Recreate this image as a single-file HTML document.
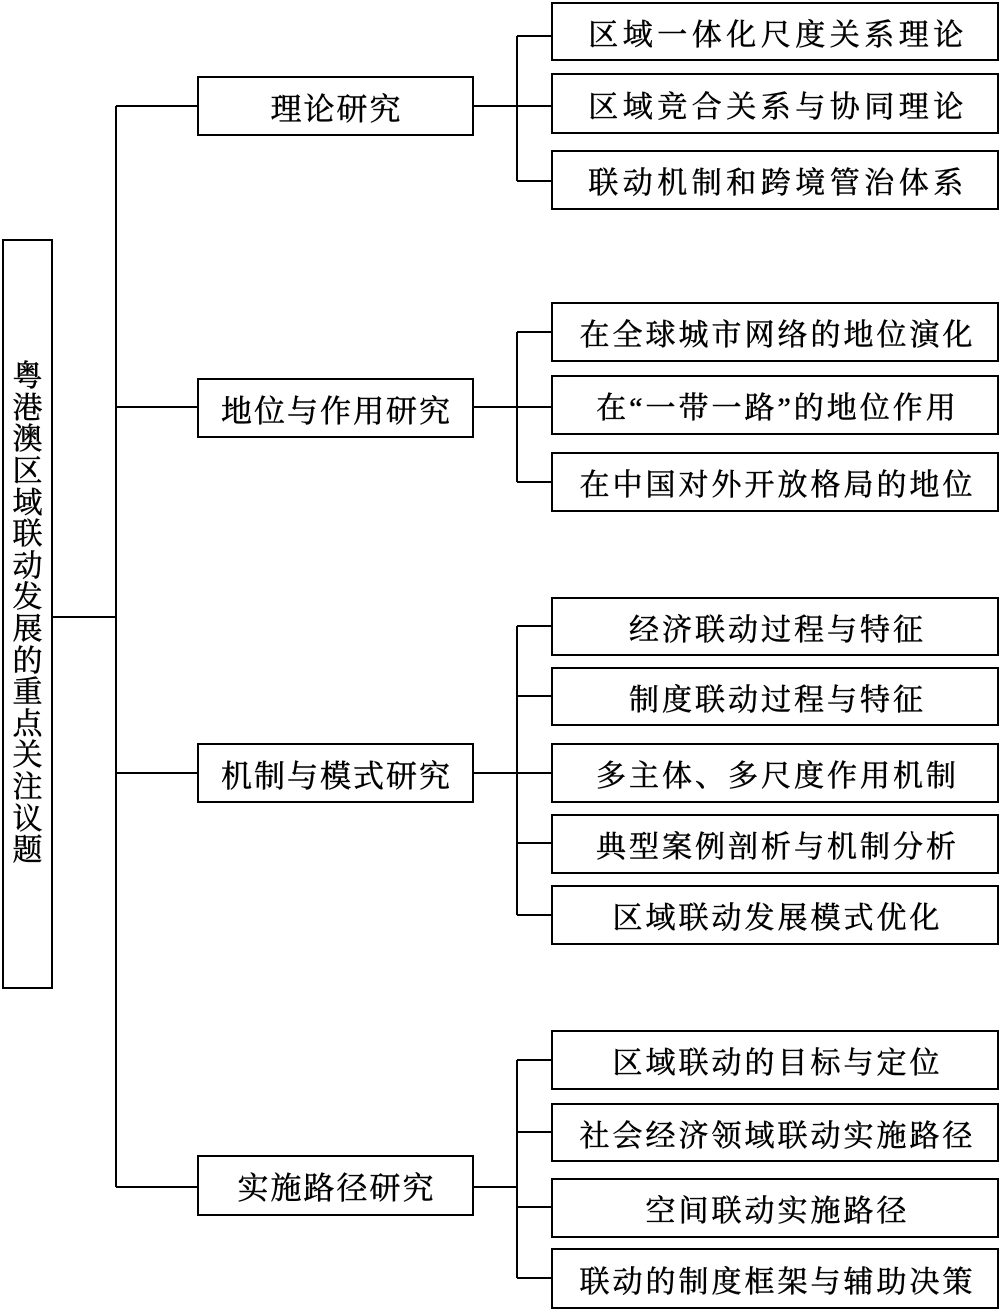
<!DOCTYPE html>
<html><head><meta charset="utf-8"><style>
body{margin:0;width:1000px;height:1310px;background:#fff;position:relative;overflow:hidden;font-family:"Liberation Serif","Noto Serif CJK SC",serif;color:#000}
.b{position:absolute;border:2px solid #000;box-sizing:border-box;display:flex;align-items:center;justify-content:center;white-space:nowrap;-webkit-text-stroke:0.5px #000}
.r{left:551px;width:448px;font-size:30px;letter-spacing:3px;padding-left:5px}
.w{letter-spacing:4.5px;padding-left:6px}
.m{left:197px;width:277px;font-size:31px;letter-spacing:2px;padding-left:2px}
svg{position:absolute;left:0;top:0}
</style></head><body>
<svg width="1000" height="1310" stroke="#000" stroke-width="2" fill="none">
<path d="M53 617H116M116 106V1187M116 106H197M116 407H197M116 773H197M116 1187H197"/>
<path d="M474 106H551M517 36V181M517 36H551M517 181H551"/>
<path d="M474 407H551M517 332V482M517 332H551M517 482H551"/>
<path d="M474 773H551M517 626V915M517 626H551M517 696H551M517 843H551M517 915H551"/>
<path d="M474 1187H517M517 1060V1278M517 1060H551M517 1132H551M517 1207H551M517 1278H551"/>
</svg>
<div class="b" style="left:2px;top:239px;width:51px;height:750px;font-size:30px;line-height:31.6px;text-align:center;white-space:normal;padding:0 10px">粤港澳区域联动发展的重点关注议题</div>
<div class="b m" style="top:76px;height:60px">理论研究</div>
<div class="b m" style="top:378px;height:60px">地位与作用研究</div>
<div class="b m" style="top:743px;height:60px">机制与模式研究</div>
<div class="b m" style="top:1155px;height:61px">实施路径研究</div>
<div class="b r w" style="top:2px;height:59px">区域一体化尺度关系理论</div>
<div class="b r w" style="top:73px;height:61px">区域竞合关系与协同理论</div>
<div class="b r w" style="top:150px;height:60px">联动机制和跨境管治体系</div>
<div class="b r" style="top:302px;height:60px">在全球城市网络的地位演化</div>
<div class="b r" style="top:375px;height:60px">在“一带一路”的地位作用</div>
<div class="b r" style="top:452px;height:60px">在中国对外开放格局的地位</div>
<div class="b r" style="top:597px;height:59px">经济联动过程与特征</div>
<div class="b r" style="top:667px;height:59px">制度联动过程与特征</div>
<div class="b r" style="top:743px;height:60px">多主体、多尺度作用机制</div>
<div class="b r" style="top:814px;height:60px">典型案例剖析与机制分析</div>
<div class="b r" style="top:885px;height:60px">区域联动发展模式优化</div>
<div class="b r" style="top:1030px;height:60px">区域联动的目标与定位</div>
<div class="b r" style="top:1103px;height:59px">社会经济领域联动实施路径</div>
<div class="b r" style="top:1178px;height:60px">空间联动实施路径</div>
<div class="b r" style="top:1248px;height:61px">联动的制度框架与辅助决策</div>
</body></html>
